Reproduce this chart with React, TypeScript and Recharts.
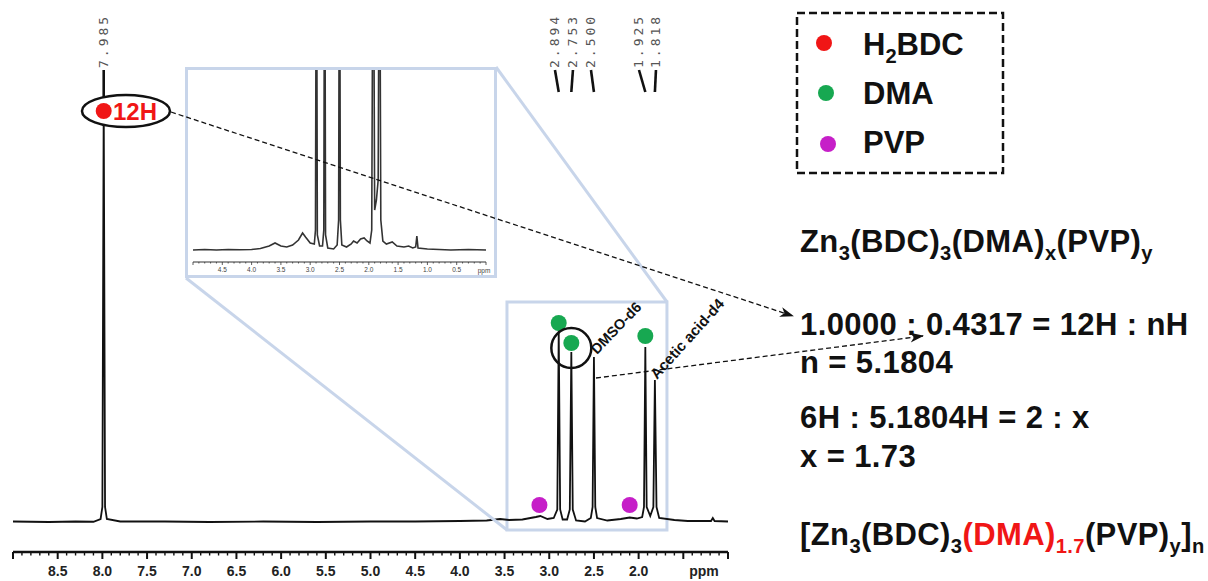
import React from "react";
import {
  LineChart,
  Line,
  XAxis,
  YAxis,
  ReferenceDot,
  ReferenceLine,
  ReferenceArea,
} from "recharts";

const FONT = "'Liberation Sans', Arial, Helvetica, sans-serif";
const RED = "#f01616";
const GREEN = "#17a851";
const MAGENTA = "#c61fc8";
const BLUE = "#c8d5ea";
const INK = "#111";

// main 1H NMR trace: [ppm, intensity]
const mainTrace: [number, number][] = [
  [9.0, 0.1], [8.6, 0], [8.3, 0.1], [8.1, 0.05], [8.02, 0.6], [8.0, 3],
  [7.985, 85], [7.97, 3], [7.95, 0.6], [7.8, 0.1], [7.3, 0.1], [6.8, 0],
  [6.2, 0.1], [5.6, 0], [5.0, 0.1], [4.5, 0.1], [4.0, 0.2], [3.7, 0.3],
  [3.55, 0.6], [3.45, 0.4], [3.3, 0.5], [3.15, 1.0], [3.1, 1.2], [3.02, 0.6],
  [2.95, 0.8], [2.91, 2.5], [2.894, 38.4], [2.878, 2.5], [2.85, 0.5],
  [2.8, 0.5], [2.77, 2.5], [2.753, 34], [2.737, 2.5], [2.7, 0.3], [2.6, 0.1],
  [2.535, 0.8], [2.515, 3], [2.5, 33], [2.485, 3], [2.465, 0.8], [2.35, 0.3],
  [2.2, 0.6], [2.1, 0.9], [2.02, 0.7], [1.96, 1], [1.94, 3], [1.925, 35],
  [1.91, 3], [1.87, 1.2], [1.835, 3], [1.818, 28.4], [1.8, 3], [1.77, 0.8],
  [1.6, 0.4], [1.45, 0.2], [1.3, 0.2], [1.19, 0.2], [1.17, 0.8], [1.15, 0.2],
  [1.0, 0.1],
];

// expanded inset trace (peaks run off the top)
const insetTrace: [number, number][] = [
  [5.0, 0], [4.8, 0.5], [4.6, 0], [4.4, 0.5], [4.2, 0.3], [4.0, 0.5],
  [3.85, 1.5], [3.7, 4], [3.6, 7], [3.5, 4], [3.4, 3], [3.3, 5], [3.2, 10],
  [3.13, 17], [3.08, 13], [3.0, 7], [2.93, 6], [2.91, 20], [2.894, 400],
  [2.878, 15], [2.84, 4], [2.79, 4], [2.768, 20], [2.753, 400], [2.738, 15],
  [2.7, 2], [2.6, 1], [2.54, 5], [2.515, 30], [2.5, 400], [2.485, 30],
  [2.46, 5], [2.38, 3], [2.3, 6], [2.26, 9], [2.2, 7], [2.14, 11], [2.08, 12],
  [2.03, 9], [1.98, 7], [1.95, 20], [1.925, 400], [1.9, 40], [1.87, 50],
  [1.84, 70], [1.818, 400], [1.795, 30], [1.76, 9], [1.7, 6], [1.6, 8],
  [1.52, 4], [1.4, 3], [1.32, 4], [1.25, 2], [1.2, 3], [1.18, 14], [1.16, 2],
  [1.0, 1], [0.8, 0.5], [0.6, 0], [0.3, 0.5], [0.0, 0],
];

const peakLabels = [
  { ppm: 7.985, at: 7.985, text: "7.985", foot: 85 },
  { ppm: 2.894, at: 2.936, text: "2.894", foot: 86 },
  { ppm: 2.753, at: 2.735, text: "2.753", foot: 86 },
  { ppm: 2.5, at: 2.533, text: "2.500", foot: 86 },
  { ppm: 1.925, at: 1.996, text: "1.925", foot: 86 },
  { ppm: 1.818, at: 1.806, text: "1.818", foot: 86 },
];

const bdcMarkers = [{ ppm: 7.985, y: 82.2 }];
const dmaMarkers = [
  { ppm: 2.894, y: 39.8 },
  { ppm: 2.753, y: 35.8 },
  { ppm: 1.925, y: 37.2 },
];
const pvpMarkers = [
  { ppm: 3.11, y: 3.4 },
  { ppm: 2.1, y: 3.4 },
];

const mainLabels = ["8.5", "8.0", "7.5", "7.0", "6.5", "6.0", "5.5", "5.0", "4.5", "4.0", "3.5", "3.0", "2.5", "2.0"];
const insetLabels = ["4.5", "4.0", "3.5", "3.0", "2.5", "2.0", "1.5", "1.0", "0.5"];
const mainTicks = Array.from({ length: 81 }, (_, i) => (90 - i) / 10);
const insetTicks = Array.from({ length: 51 }, (_, i) => (50 - i) / 10);

const mainData = mainTrace.map(([ppm, v]) => ({ ppm, v }));
const insetData = insetTrace.map(([ppm, v]) => ({ ppm, v }));

const MainTick = (props: any) => {
  const { x, y, payload } = props;
  const v: number = payload.value;
  const major = Math.round(v * 10) % 5 === 0;
  const label = v.toFixed(1);
  return (
    <g>
      <line x1={x} x2={x} y1={y} y2={y + (major ? 7 : 3.5)} stroke={INK} strokeWidth={major ? 2 : 1.4} />
      {mainLabels.includes(label) && (
        <text x={x} y={y + 24} textAnchor="middle" fontFamily={FONT} fontWeight={700} fontSize={14} fill="#222">
          {label}
        </text>
      )}
    </g>
  );
};

const InsetTick = (props: any) => {
  const { x, y, payload } = props;
  const v: number = payload.value;
  const major = Math.round(v * 10) % 5 === 0;
  const label = v.toFixed(1);
  return (
    <g>
      <line x1={x} x2={x} y1={y} y2={y + (major ? 3 : 1.5)} stroke="#333" strokeWidth={0.8} />
      {insetLabels.includes(label) && (
        <text x={x} y={y + 10} textAnchor="middle" fontFamily={FONT} fontSize={6.5} fill="#444">
          {label}
        </text>
      )}
    </g>
  );
};

type Part = { t: string; sub?: boolean; red?: boolean };

const Formula = ({ x, y, parts, size = 31, spacing = 0 }: { x: number; y: number; parts: Part[]; size?: number; spacing?: number }) => {
  let shift = 0;
  return (
    <text x={x} y={y} fontFamily={FONT} fontWeight={700} fontSize={size} fill={INK} letterSpacing={spacing}>
      {parts.map((p, i) => {
        const target = p.sub ? 8 : 0;
        const dy = target - shift;
        shift = target;
        return (
          <tspan key={i} dy={dy} fontSize={p.sub ? size * 0.65 : size} fill={p.red ? RED : INK}>
            {p.t}
          </tspan>
        );
      })}
    </text>
  );
};

const PeakLabel = (p: any, text: string) => (
  <text
    x={p.cx}
    y={p.cy}
    transform={`rotate(-90 ${p.cx} ${p.cy})`}
    dominantBaseline="central"
    fontFamily="'DejaVu Sans Mono', monospace"
    fontSize={13}
    letterSpacing={3}
    fill="#555"
  >
    {text}
  </text>
);

const SlantLabel = (p: any, text: string, angle: number, size: number) => (
  <text
    x={p.cx}
    y={p.cy}
    transform={`rotate(${angle} ${p.cx} ${p.cy})`}
    fontFamily={FONT}
    fontWeight={700}
    fontSize={size}
    fill={INK}
  >
    {text}
  </text>
);

export default function App() {
  return (
    <div style={{ position: "relative", width: 1208, height: 581, background: "#fff" }}>
      <style>{`body{margin:0}`}</style>
      <LineChart width={1208} height={581} data={mainData} margin={{ top: 0, right: 480, bottom: 0, left: 13 }}>
        <XAxis
          type="number"
          dataKey="ppm"
          domain={[1, 9]}
          reversed
          ticks={mainTicks}
          interval={0}
          tickSize={0}
          tickMargin={0}
          height={29}
          axisLine={{ stroke: INK, strokeWidth: 2.5 }}
          tickLine={false}
          tick={(p: any) => <MainTick {...p} />}
        />
        <YAxis hide width={0} type="number" domain={[-6, 104.4]} />
        <Line type="linear" dataKey="v" stroke={INK} strokeWidth={1.8} dot={false} isAnimationActive={false} />
        <ReferenceArea x1={3.473} x2={1.683} y1={-1.6} y2={44} fill="none" stroke={BLUE} strokeWidth={3} />
        {peakLabels.map((l) => (
          <ReferenceLine
            key={"ld" + l.text}
            segment={[{ x: l.at, y: 90.4 }, { x: l.ppm, y: l.foot }]}
            stroke={INK}
            strokeWidth={2.6}
          />
        ))}
        {peakLabels.map((l) => (
          <ReferenceDot key={"lb" + l.text} x={l.at} y={90.8} r={0} shape={(p: any) => PeakLabel(p, l.text)} />
        ))}
        <ReferenceDot
          x={7.736}
          y={82.2}
          r={0}
          shape={(p: any) => (
            <g>
              <ellipse cx={p.cx} cy={p.cy} rx={44} ry={16} fill="#fff" stroke={INK} strokeWidth={2.5} />
              <text x={p.cx - 13} y={p.cy + 8.5} fontFamily={FONT} fontWeight={700} fontSize={24} fill={RED}>
                12H
              </text>
            </g>
          )}
        />
        {bdcMarkers.map((m) => (
          <ReferenceDot key={"b" + m.ppm} x={m.ppm} y={m.y} r={8} fill={RED} stroke="none" />
        ))}
        {dmaMarkers.map((m) => (
          <ReferenceDot key={"d" + m.ppm} x={m.ppm} y={m.y} r={8} fill={GREEN} stroke="none" />
        ))}
        {pvpMarkers.map((m) => (
          <ReferenceDot key={"p" + m.ppm} x={m.ppm} y={m.y} r={8} fill={MAGENTA} stroke="none" />
        ))}
        <ReferenceDot x={2.753} y={34.8} r={20} fill="none" stroke={INK} strokeWidth={2.5} />
        <ReferenceDot x={2.466} y={33.4} r={0} shape={(p: any) => SlantLabel(p, "DMSO-d6", -46, 14.5)} />
        <ReferenceDot x={1.794} y={28.4} r={0} shape={(p: any) => SlantLabel(p, "Acetic acid-d4", -48, 15)} />
      </LineChart>

      <div
        style={{
          position: "absolute",
          left: 185,
          top: 67,
          width: 312,
          height: 211,
          boxSizing: "border-box",
          border: `3px solid ${BLUE}`,
          background: "#fff",
          overflow: "hidden",
        }}
      >
        <LineChart width={306} height={205} data={insetData} margin={{ top: 0, right: 8, bottom: 0, left: 5 }}>
          <XAxis
            type="number"
            dataKey="ppm"
            domain={[0, 5]}
            reversed
            ticks={insetTicks}
            interval={0}
            tickSize={0}
            tickMargin={0}
            height={13}
            axisLine={{ stroke: "#333", strokeWidth: 1.2 }}
            tickLine={false}
            tick={(p: any) => <InsetTick {...p} />}
          />
          <YAxis hide width={0} type="number" domain={[-12, 180]} allowDataOverflow />
          <Line type="linear" dataKey="v" stroke="#333" strokeWidth={1.6} dot={false} isAnimationActive={false} />
        </LineChart>
      </div>

      <svg width={1208} height={581} style={{ position: "absolute", left: 0, top: 0, pointerEvents: "none" }}>
        <defs>
          <marker id="ah" viewBox="0 0 14 10" refX={13} refY={5} markerWidth={14} markerHeight={10} orient="auto" markerUnits="userSpaceOnUse">
            <path d="M0,0 L14,5 L0,10 L4,5 Z" fill={INK} />
          </marker>
        </defs>
        <line x1={186} y1={278} x2={507} y2={530} stroke={BLUE} strokeWidth={3} />
        <line x1={496} y1={67} x2={667} y2={302} stroke={BLUE} strokeWidth={3} />
        <line x1={171} y1={112} x2={793} y2={316} stroke={INK} strokeWidth={1.3} strokeDasharray="5 3" markerEnd="url(#ah)" />
        <line x1={596} y1={378} x2={923} y2={336} stroke={INK} strokeWidth={1.3} strokeDasharray="5 3" markerEnd="url(#ah)" />
        <text x={704} y={576} textAnchor="middle" fontFamily={FONT} fontWeight={700} fontSize={14} fill="#222">ppm</text>
        <text x={484} y={273} textAnchor="middle" fontFamily={FONT} fontSize={6.5} fill="#444">ppm</text>

        <rect x={797} y={13} width={206} height={160} fill="none" stroke={INK} strokeWidth={2.5} strokeDasharray="8 4" />
        <circle cx={824} cy={43} r={8} fill={RED} />
        <circle cx={826} cy={93} r={8} fill={GREEN} />
        <circle cx={828} cy={144} r={8} fill={MAGENTA} />
        <Formula x={863} y={55} parts={[{ t: "H" }, { t: "2", sub: true }, { t: "BDC" }]} />
        <Formula x={863} y={104} parts={[{ t: "DMA" }]} />
        <Formula x={863} y={153} parts={[{ t: "PVP" }]} />

        <Formula
          x={800}
          y={252}
          spacing={0.4}
          parts={[
            { t: "Zn" }, { t: "3", sub: true }, { t: "(BDC)" }, { t: "3", sub: true },
            { t: "(DMA)" }, { t: "x", sub: true }, { t: "(PVP)" }, { t: "y", sub: true },
          ]}
        />
        <Formula x={800} y={335} spacing={0.4} parts={[{ t: "1.0000 : 0.4317 = 12H : nH" }]} />
        <Formula x={800} y={373} spacing={0.4} parts={[{ t: "n = 5.1804" }]} />
        <Formula x={800} y={428} spacing={0.4} parts={[{ t: "6H : 5.1804H = 2 : x" }]} />
        <Formula x={800} y={467} spacing={0.4} parts={[{ t: "x = 1.73" }]} />
        <Formula
          x={800}
          y={545}
          spacing={0.4}
          parts={[
            { t: "[Zn" }, { t: "3", sub: true }, { t: "(BDC)" }, { t: "3", sub: true },
            { t: "(DMA)", red: true }, { t: "1.7", sub: true, red: true }, { t: "(PVP)" },
            { t: "y", sub: true }, { t: "]" }, { t: "n", sub: true },
          ]}
        />
      </svg>
    </div>
  );
}
